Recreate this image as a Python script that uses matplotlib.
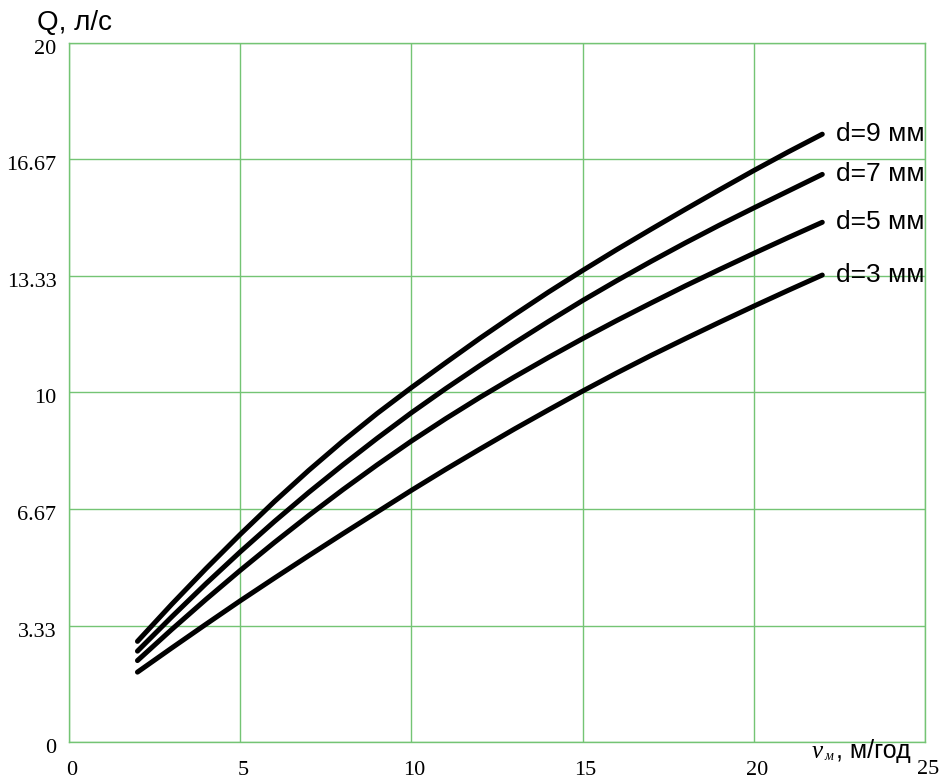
import numpy as np
import matplotlib.pyplot as plt
import matplotlib.transforms as mtransforms

# швидкість руху, м/год
v = [2, 3, 4, 5, 6, 7, 8, 9, 10, 11, 12, 13, 14, 15, 16, 17, 18, 19, 20, 21, 22]

# витрата Q, л/с для різних діаметрів
q_d3 = [2.00, 2.69, 3.37, 4.04, 4.69, 5.33, 5.96, 6.58, 7.20, 7.80, 8.38,
        8.95, 9.50, 10.04, 10.56, 11.06, 11.54, 12.01, 12.47, 12.92, 13.36]
q_d5 = [2.33, 3.22, 4.08, 4.91, 5.71, 6.48, 7.22, 7.93, 8.61, 9.25, 9.86,
        10.44, 11.00, 11.54, 12.06, 12.56, 13.05, 13.52, 13.98, 14.43, 14.87]
q_d7 = [2.60, 3.58, 4.53, 5.44, 6.31, 7.14, 7.93, 8.69, 9.42, 10.11, 10.77,
        11.41, 12.03, 12.63, 13.20, 13.75, 14.28, 14.79, 15.28, 15.76, 16.24]
q_d9 = [2.88, 3.94, 4.96, 5.94, 6.88, 7.77, 8.61, 9.40, 10.14, 10.85, 11.55,
        12.22, 12.87, 13.49, 14.09, 14.67, 15.24, 15.80, 16.35, 16.88, 17.39]

labels = ["d=9 мм", "d=7 мм", "d=5 мм", "d=3 мм"]
series = [q_d9, q_d7, q_d5, q_d3]

x_ticks = [0, 5, 10, 15, 20, 25]
y_ticks = [0, 3.333, 6.667, 10, 13.333, 16.667, 20]
y_tick_labels = ["0", "3.33", "6.67", "10", "13.33", "16.67", "20"]

grid_col = "#74c474"

fig = plt.figure(figsize=(9.41, 7.81), dpi=100)
ax = fig.add_axes([0.0733, 0.0499, 0.9097, 0.8951])

for q, lab in zip(series, labels):
    ax.plot(v, q, color="black", lw=3.6, solid_capstyle="round")
    ax.text(v[-1] + 0.4, q[-1], lab, fontsize=19, family="Liberation Sans",
            va="center", ha="left")

ax.set_xlim(0, 25)
ax.set_ylim(0, 20)
ax.set_xticks(x_ticks)
ax.set_yticks(y_ticks)
ax.set_yticklabels(y_tick_labels)
ax.set_xticklabels([str(t) if t != 25 else "" for t in x_ticks])
ax.tick_params(length=0, labelsize=16, pad=9)
ax.tick_params(axis="x", pad=14)

# трохи зсунути підписи поділок, як в оригіналі
dy = mtransforms.ScaledTranslation(0, -0.04, fig.dpi_scale_trans)
dx = mtransforms.ScaledTranslation(0.03, 0, fig.dpi_scale_trans)
for lbl in ax.get_yticklabels():
    lbl.set_family("Liberation Serif")
    lbl.set_transform(lbl.get_transform() + dy)
for lbl in ax.get_xticklabels():
    lbl.set_family("Liberation Serif")
    lbl.set_transform(lbl.get_transform() + dx)

ax.grid(True, color=grid_col, lw=1)
for s in ax.spines.values():
    s.set_color(grid_col)
    s.set_linewidth(1)

# підписи осей
fig.text(0.039, 0.962, "Q, л/с", fontsize=20, family="Liberation Sans")
fig.text(0.863, 0.029, "v", fontsize=18, family="Liberation Serif", style="italic")
fig.text(0.876, 0.027, "м", fontsize=10, family="Liberation Serif", style="italic")
fig.text(0.888, 0.029, ", м/год", fontsize=18, family="Liberation Sans")
fig.text(0.986, 0.009, "25", fontsize=16, family="Liberation Serif", ha="center")

fig.savefig("out.png", dpi=100)
